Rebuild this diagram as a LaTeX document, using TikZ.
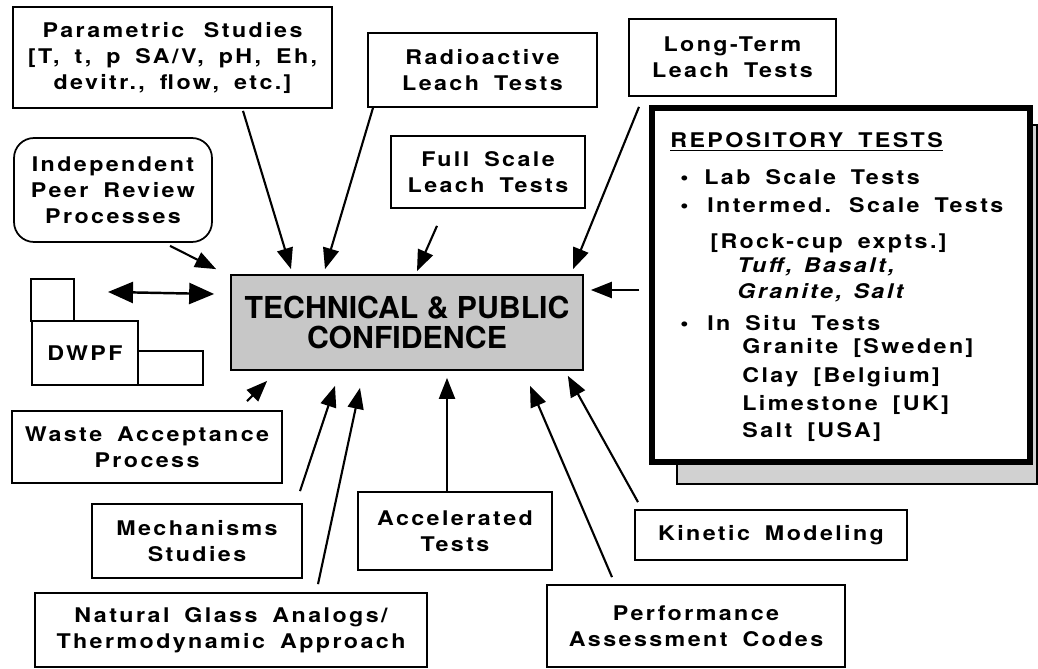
\documentclass[tikz,border=0pt]{standalone}
\usepackage{fontspec}
\usetikzlibrary{arrows.meta,calc}
\newfontfamily\lbl[FakeStretch=1.15,LetterSpace=12,WordSpace=2.2]{TeX Gyre Heros}
\newfontfamily\lbltight[FakeStretch=1.15,LetterSpace=12,WordSpace=1.3]{TeX Gyre Heros}
\newfontfamily\hdr{TeX Gyre Heros}

\tikzset{
  box/.style={draw, line width=1pt, align=center, inner sep=0pt,
    font=\lbl\bfseries\fontsize{11.5}{14.8}\selectfont},
  arr/.style={line width=1.2pt, -{Triangle[length=0.42cm,width=0.32cm]}},
  rline/.style={anchor=base west, inner sep=0pt,
    font=\lbl\bfseries\fontsize{11.5}{14.8}\selectfont}
}

\begin{document}
\begin{tikzpicture}[x=0.02cm, y=-0.02cm]
  \useasboundingbox (0,0) rectangle (1038,669);

  % boxes feeding the centre
  \node[box, minimum width=6.38cm, minimum height=2.02cm] (par) at (172.5,57.5)
    {Parametric \hspace{0.4em}Studies\\{\lbltight\bfseries [T, t, p SA/V, pH, Eh,}\\ devitr., flow, etc.]};
  \node[box, minimum width=4.58cm, minimum height=1.48cm] (rad) at (482.5,70)
    {Radioactive\\ Leach Tests};
  \node[box, minimum width=4.14cm, minimum height=1.54cm] (lt) at (732.5,57.5)
    {Long-Term\\ Leach Tests};
  \node[box, minimum width=3.88cm, minimum height=1.44cm] (full) at (488,172)
    {Full Scale\\ Leach Tests};
  \node[box, rounded corners=0.4cm, minimum width=3.96cm, minimum height=2.08cm] (ind) at (113,190)
    {Independent\\ Peer Review\\ Processes};

  \node[draw, line width=1pt, fill=black!22, align=center, inner sep=0pt,
    minimum width=7.04cm, minimum height=1.9cm,
    font=\hdr\bfseries\fontsize{17.2}{16.8}\selectfont] (tc) at (407,322.5)
    {TECHNICAL \& PUBLIC\\ CONFIDENCE};

  % DWPF building
  \draw[line width=1.2pt] (31,321) rectangle (74,279);
  \draw[line width=1.2pt] (138,351) rectangle (203,385);
  \node[box, line width=1.2pt, minimum width=2.12cm, minimum height=1.28cm] (dw) at (85,353) {DWPF};

  \node[box, minimum width=5.4cm, minimum height=1.44cm] (waste) at (147,447)
    {Waste Acceptance\\ Process};
  \node[box, minimum width=4.2cm, minimum height=1.48cm] (mech) at (197,541)
    {Mechanisms\\ Studies};
  \node[box, minimum width=7.84cm, minimum height=1.48cm] (nat) at (231,630)
    {Natural Glass Analogs/\\ Thermodynamic Approach};
  \node[box, minimum width=3.88cm, minimum height=1.56cm] (acc) at (455,531)
    {Accelerated\\ Tests};
  \node[box, minimum width=5.44cm, minimum height=1.0cm] (kin) at (771,535)
    {Kinetic Modeling};
  \node[box, minimum width=5.96cm, minimum height=1.64cm] (perf) at (696,626)
    {Performance\\ Assessment Codes};

  % repository tests with its shadow
  \draw[line width=0.8pt, fill=black!18] (677,125) rectangle (1037,484);
  \node[draw, line width=3pt, fill=white, minimum width=7.56cm, minimum height=7.08cm] (rep) at (841,285) {};
  \node[rline] (r0) at (670,148) {\underline{REPOSITORY TESTS}};
  \node[rline] (b1) at (680,184) {•};
  \node[rline] (r1) at (704,184) {Lab Scale Tests};
  \node[rline] (b2) at (680,213) {•};
  \node[rline] (r2) at (707,213) {Intermed. Scale Tests};
  \node[rline] (r3) at (710,248) {[Rock-cup expts.]};
  \node[rline] (r4) at (737,272) {\itshape Tuff, Basalt,};
  \node[rline] (r5) at (737,298) {\itshape Granite, Salt};
  \node[rline] (b3) at (680,330) {•};
  \node[rline] (r6) at (707,330) {In Situ Tests};
  \node[rline] (r7) at (742,353) {Granite [Sweden]};
  \node[rline] (r8) at (742,382) {Clay [Belgium]};
  \node[rline] (r9) at (742,410) {Limestone [UK]};
  \node[rline] (r10) at (742,437) {Salt [USA]};

  % arrows into the centre
  \draw[arr] ($(par.south)+(70.5,2)$) -- ($(tc.north)+(-116,-5)$);
  \draw[arr] ($(rad.south)+(-109.5,0)$) -- ($(tc.north)+(-82,-5)$);
  \draw[arr] ($(full.south)+(-51,17)$) -- ($(tc.north)+(10,-3)$);
  \draw[arr] ($(lt.south)+(-93.5,10)$) -- ($(tc.north)+(166,-5)$);
  \draw[arr] ($(ind.south)+(57,3)$) -- ($(tc.north west)+(-14,-5)$);
  \draw[arr] ($(rep.west)+(-10,5)$) -- ($(tc.east)+(7,-32.5)$);
  \draw[arr] ($(waste.north)+(100,-9)$) -- ($(tc.south west)+(37,10)$);
  \draw[arr] ($(mech.north)+(103,-12)$) -- ($(tc.south)+(-72,15)$);
  \draw[arr] ($(nat.north)+(87,-8)$) -- ($(tc.south)+(-47,17)$);
  \draw[arr] ($(acc.north)+(-8,0)$) -- ($(tc.south)+(40,7)$);
  \draw[arr] ($(perf.north)+(-84,-7)$) -- ($(tc.south)+(123,15)$);
  \draw[arr] ($(kin.north)+(-133,-7)$) -- ($(tc.south east)+(-16,5)$);
  \draw[line width=1.4pt, {Triangle[length=0.5cm,width=0.42cm]}-{Triangle[length=0.5cm,width=0.42cm]}]
    ($(dw.north)+(23,-28)$) -- ($(tc.west)+(-16,-28.5)$);
\end{tikzpicture}
\end{document}
